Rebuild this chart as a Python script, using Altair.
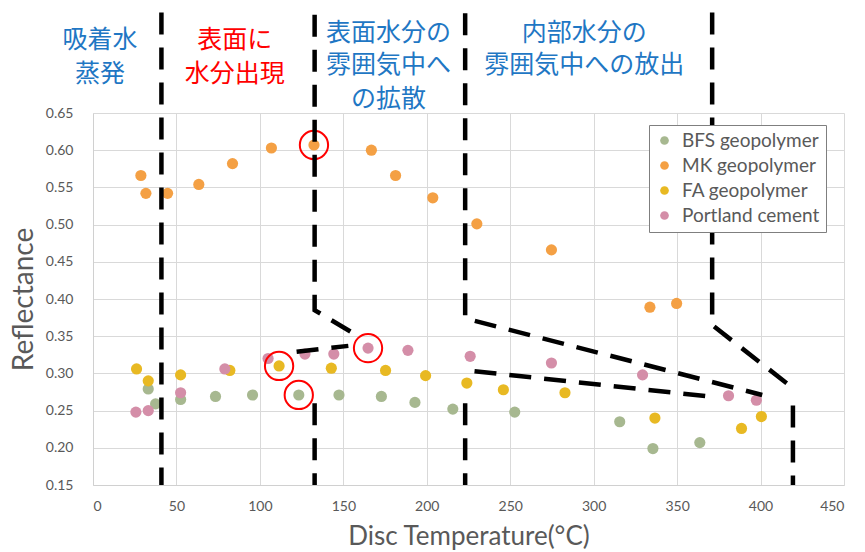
import altair as alt
import pandas as pd

# Series names (legend order)
series_names = ["BFS geopolymer", "MK geopolymer", "FA geopolymer", "Portland cement"]
series_colors = ["#A7B890", "#F4A044", "#E8B923", "#D48EA8"]

# Disc temperature (°C) and reflectance for each material
bfs_temp = [33.1, 37.5, 52.5, 73.4, 95.6, 123.3, 147.4, 172.8, 192.9, 215.6, 252.7, 315.6, 335.5, 363.6]
bfs_refl = [0.279, 0.259, 0.265, 0.269, 0.271, 0.271, 0.271, 0.269, 0.261, 0.252, 0.248, 0.235, 0.199, 0.207]

mk_temp = [28.7, 31.7, 44.7, 63.4, 83.6, 106.9, 132.4, 166.8, 181.3, 203.6, 230.0, 274.7, 333.7, 349.7]
mk_refl = [0.566, 0.542, 0.542, 0.554, 0.582, 0.603, 0.607, 0.600, 0.566, 0.536, 0.501, 0.466, 0.389, 0.394]

fa_temp = [26.1, 33.1, 52.5, 82.0, 111.5, 142.8, 175.3, 199.3, 224.0, 245.9, 282.8, 336.7, 388.6, 400.5]
fa_refl = [0.306, 0.290, 0.298, 0.304, 0.310, 0.307, 0.304, 0.297, 0.287, 0.278, 0.274, 0.240, 0.226, 0.242]

pc_temp = [25.7, 33.1, 52.5, 79.0, 104.9, 127.0, 144.3, 164.8, 188.7, 226.0, 274.7, 329.3, 380.8, 397.5]
pc_refl = [0.248, 0.250, 0.274, 0.306, 0.320, 0.326, 0.326, 0.334, 0.331, 0.323, 0.314, 0.298, 0.270, 0.264]

series_temp = [bfs_temp, mk_temp, fa_temp, pc_temp]
series_refl = [bfs_refl, mk_refl, fa_refl, pc_refl]

# Highlighted measurements: (series index, point index)
highlighted = [(1, 6), (2, 4), (0, 5), (3, 7)]

# Stage boundaries as dashed polylines: (boundary id, temperature, reflectance)
boundary_id = ["a", "a",
               "b1", "b1", "b1", "b2", "b2", "b3", "b3",
               "c1", "c1", "c1", "c2", "c2", "c3", "c3",
               "d1", "d1", "d1", "d2", "d2"]
boundary_temp = [41, 41,
                 132.8, 132.8, 156, 122, 153, 132.8, 132.8,
                 223, 223, 401, 228.6, 369, 223, 223,
                 371, 371, 419, 419.4, 419.4]
boundary_refl = [0.785, 0.15,
                 0.782, 0.385, 0.354, 0.329, 0.337, 0.26, 0.15,
                 0.784, 0.374, 0.271, 0.303, 0.269, 0.26, 0.15,
                 0.785, 0.365, 0.281, 0.257, 0.15]

# Stage labels above the plot
stage_text = ["吸着水", "蒸発", "表面に", "水分出現",
              "表面水分の", "雰囲気中へ", "の拡散",
              "内部水分の", "雰囲気中への放出"]
stage_temp = [4.2, 4.2, 85, 85, 177, 177, 177, 294.4, 294.4]
stage_refl = [0.748, 0.703, 0.748, 0.703, 0.758, 0.714, 0.669, 0.758, 0.714]
stage_color = ["#1F77C4", "#1F77C4", "#FF0000", "#FF0000",
               "#1F77C4", "#1F77C4", "#1F77C4", "#1F77C4", "#1F77C4"]

x_ticks = list(range(0, 451, 50))
y_ticks = [0.15, 0.20, 0.25, 0.30, 0.35, 0.40, 0.45, 0.50, 0.55, 0.60, 0.65]

rows = []
for k, (name, ts, rs) in enumerate(zip(series_names, series_temp, series_refl)):
    for t, r in zip(ts, rs):
        rows.append({"temp": t, "refl": r, "series": name, "series_order": k})
points_df = pd.DataFrame(rows)

hl_df = pd.DataFrame([
    {"temp": series_temp[s][i], "refl": series_refl[s][i]} for s, i in highlighted
])

bound_df = pd.DataFrame({
    "id": boundary_id, "temp": boundary_temp, "refl": boundary_refl,
    "step": list(range(len(boundary_id))),
})

text_df = pd.DataFrame({
    "label": stage_text, "temp": stage_temp, "refl": stage_refl, "color": stage_color,
})

x_scale = alt.Scale(domain=[0, 450], nice=False, zero=False)
y_scale = alt.Scale(domain=[0.15, 0.65], nice=False, zero=False)

x_axis = alt.Axis(values=x_ticks, tickCount=len(x_ticks), title="Disc Temperature(°C)",
                  grid=True, labelPadding=14, titlePadding=10, labelOverlap=False,
                  titleFontSize=26)
y_axis = alt.Axis(values=y_ticks, tickCount=len(y_ticks), format=".2f", title="Reflectance",
                  grid=True, labelPadding=20, titlePadding=7, labelOverlap=False,
                  titleFontSize=28)

points = alt.Chart(points_df).mark_circle(size=125, opacity=1).encode(
    x=alt.X("temp:Q", scale=x_scale, axis=x_axis),
    y=alt.Y("refl:Q", scale=y_scale, axis=y_axis),
    color=alt.Color(
        "series:N",
        scale=alt.Scale(domain=series_names, range=series_colors),
        legend=alt.Legend(
            title=None, orient="none", legendX=556, legendY=12,
            fillColor="white", strokeColor="#7F7F7F", padding=6,
            labelFontSize=19, labelColor="#595959", labelFont="Lato",
            labelOffset=8, symbolType="circle", symbolSize=75, rowPadding=5,
            symbolStrokeWidth=0,
        ),
    ),
    order=alt.Order("series_order:Q"),
)

rings = alt.Chart(hl_df).mark_point(
    shape="circle", filled=False, size=800, color="#FF0000", strokeWidth=2, opacity=1
).encode(
    x=alt.X("temp:Q", scale=x_scale),
    y=alt.Y("refl:Q", scale=y_scale),
)

bounds = alt.Chart(bound_df).mark_line(
    color="black", strokeWidth=4.5, strokeDash=[22, 13], clip=False, strokeCap="butt"
).encode(
    x=alt.X("temp:Q", scale=x_scale),
    y=alt.Y("refl:Q", scale=y_scale),
    detail="id:N",
    order="step:Q",
)

labels = alt.Chart(text_df).mark_text(
    font="Noto Sans CJK JP", fontSize=25, baseline="middle", align="center", clip=False
).encode(
    x=alt.X("temp:Q", scale=x_scale),
    y=alt.Y("refl:Q", scale=y_scale),
    text="label:N",
    color=alt.Color("color:N", scale=None),
)

chart = alt.layer(points, rings, bounds, labels).properties(
    width=751, height=372,
    autosize=alt.AutoSizeParams(type="none"),
    padding={"left": 93, "top": 113, "right": 21, "bottom": 67},
    background="white",
).configure_axis(
    gridColor="#D9D9D9", gridWidth=1, domainColor="#D0D0D0", ticks=False,
    labelFont="Lato", labelFontSize=14, labelColor="#595959",
    titleFont="Lato", titleColor="#595959", titleFontWeight="normal",
).configure_view(stroke=None)

chart.save("out.html", embed_options={"renderer": "svg", "actions": False})
